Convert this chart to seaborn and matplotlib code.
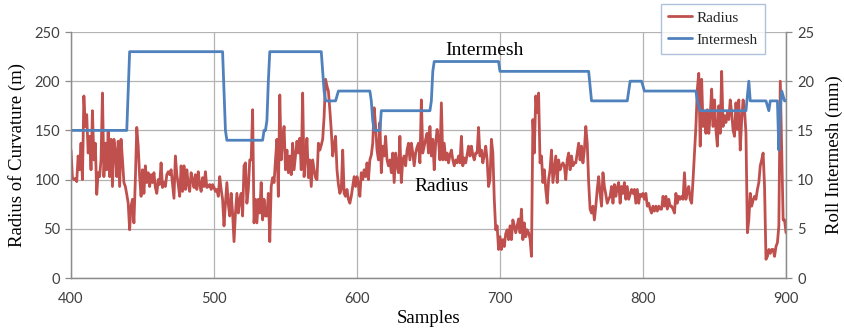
import numpy as np
import pandas as pd
import matplotlib
matplotlib.use("Agg")
import matplotlib.pyplot as plt
from matplotlib.lines import Line2D
import seaborn as sns

# Sample index along the run
samples = np.arange(400, 901)

# Radius of curvature (m), one value per sample
radius = [
    130, 102, 100, 101, 98, 124, 110, 137, 100, 185,
    154, 166, 127, 144, 110, 170, 120, 137, 85, 107,
    103, 120, 188, 103, 137, 110, 149, 103, 141, 93,
    141, 129, 103, 139, 93, 141, 120, 97, 93, 85,
    76, 49, 73, 80, 56, 100, 153, 134, 103, 83,
    110, 86, 114, 97, 107, 93, 105, 97, 107, 92,
    86, 100, 95,                                   # 400-462
    117, 92, 97, 93, 105, 108, 105, 110, 95, 81,
    124, 105, 95, 83, 114, 88, 114, 90, 110, 95,
    88, 107, 100, 92, 105, 90, 108, 95, 88, 102,
    93, 108, 92, 93, 95, 90, 95, 92, 88, 90,
    83, 103, 90, 80, 53, 76, 97, 75, 63, 86,
    66, 37, 66, 86, 66, 80, 86, 63, 114, 117,
    76, 90, 120,                                   # 463-525
    120, 171, 56, 80, 56, 80, 66, 97, 59, 80,
    63, 63, 86, 37, 93, 102, 97, 120, 141, 83, 186,
    120, 140, 154, 110, 130, 107, 124, 105, 137, 110,
    124, 139, 127, 142, 110, 188, 103, 124, 142, 102,
    120, 93, 120, 110, 102, 100, 137, 130, 135, 141,
    164, 202, 195, 190, 171, 150, 124, 135, 144, 110,
    95, 86, 90,                                    # 526-589
    130, 86, 83, 90, 80, 76, 83, 93, 103, 93,
    103, 95, 83, 107, 100, 110, 103, 117, 100, 120,
    125, 137, 173, 154, 130, 120, 158, 107, 134, 124,
    144, 120, 114, 120, 107, 127, 97, 127, 115, 107,
    144, 97, 120, 124, 114, 130, 137, 120, 137, 127,
    114, 127, 133, 137, 117, 181, 127, 134, 141, 147,
    127,                                           # 590-650
    154, 124, 141, 110, 137, 151, 140, 120, 178, 120,
    137, 120, 127, 117, 125, 130, 120, 114, 120, 117,
    124, 117, 144, 114, 122, 117, 125, 134, 124, 134,
    125, 120, 127, 127, 153, 124, 130, 117, 125, 134,
    120, 93, 100, 141, 127, 80, 49, 53, 29, 42,
    29, 39, 32, 45, 49, 39, 53, 39, 59, 53,
    46, 53, 60,                                    # 651-713
    46, 70, 39, 56, 42, 49, 46, 40, 22, 161,
    127, 185, 168, 188, 117, 124, 97, 110, 90, 76,
    100, 110, 130, 97, 110, 124, 97, 120, 110, 114,
    117, 114, 100, 120, 127, 110, 124, 114, 117, 117,
    127, 137, 120, 134, 117, 130, 154, 137, 97, 70,
    66, 73, 59, 73, 90, 103, 86, 73, 107, 93,
    85, 76, 80,                                    # 714-776
    83, 93, 76, 95, 83, 92, 97, 76, 93, 86,
    97, 80, 93, 80, 85, 90, 86, 90, 76, 90,
    76, 85, 83, 86, 80, 86, 73, 76, 70, 66,
    73, 68, 73, 68, 73, 70, 70, 83, 73, 83,
    70, 80, 73, 73, 70, 66, 86, 76, 83, 80,
    83, 80, 107, 80, 88, 93, 80, 76, 100, 127,
    154, 192,                                      # 777-838
    208, 134, 202, 154, 168, 147, 171, 147, 165, 192,
    154, 181, 151, 134, 175, 147, 210, 154, 165, 158,
    168, 161, 181, 168, 150, 144, 178, 151, 181, 130,
    160, 181, 171, 147, 46, 59, 86, 73, 79, 83,
    80, 90, 97, 114, 120, 127, 93, 19, 22, 29,
    25, 29, 29, 22, 32, 36, 53, 200, 127, 59,
    59, 46,                                        # 839-900
]

# Roll intermesh (mm) as (level, number of samples) runs
intermesh_runs = [
    (15, 40), (19, 1), (23, 66), (19, 1), (15, 1), (14, 26), (15, 2),
    (16, 1), (20, 1), (23, 37), (21, 1), (19, 1), (18, 8), (18.5, 1),
    (19, 23), (18, 1), (16, 1), (15, 5), (17, 35), (18, 1), (21, 1),
    (22, 46), (21, 63), (19.5, 1), (18, 26), (19, 1), (20, 9), (19.5, 1),
    (19, 37), (18, 1), (17.5, 1), (17, 33), (18.5, 1), (20, 1), (18, 12),
    (17.5, 1), (17, 1), (18, 6), (13, 1), (17, 1), (19, 1), (18.5, 1),
    (18, 2),
]
intermesh = np.repeat([v for v, _ in intermesh_runs], [n for _, n in intermesh_runs])

assert len(radius) == len(samples) == len(intermesh)

df = pd.DataFrame({"Samples": samples, "Radius": radius, "Intermesh": intermesh})

RED = "#C0504D"
BLUE = "#4F81BD"
GRID = "#B3B3B3"
AXIS = "#8C8C8C"
TICKTXT = "#404040"

sns.set_theme(style="white")
plt.rcParams["font.family"] = ["Liberation Serif", "DejaVu Serif"]

fig = plt.figure(figsize=(8.44, 3.31), dpi=100)
ax = fig.add_axes([71 / 844, 1 - 278 / 331, (786 - 71) / 844, (278 - 32) / 331])
ax2 = ax.twinx()

sns.lineplot(data=df, x="Samples", y="Radius", ax=ax, color=RED, linewidth=2.0)
sns.lineplot(data=df, x="Samples", y="Intermesh", ax=ax2, color=BLUE, linewidth=2.0)

ax.set_xlim(400, 900)
ax.set_ylim(0, 250)
ax2.set_ylim(0, 25)
ax.set_xticks(np.arange(400, 901, 100))
ax.set_yticks(np.arange(0, 251, 50))
ax2.set_yticks(np.arange(0, 26, 5))

ax.grid(True, color=GRID, linewidth=0.9)
ax2.grid(False)
ax.set_axisbelow(True)

for a in (ax, ax2):
    a.spines["top"].set_visible(False)
    for side in ("left", "right", "bottom"):
        a.spines[side].set_color(AXIS)
        a.spines[side].set_linewidth(0.9)
    a.tick_params(axis="both", direction="out", length=4, width=0.9,
                  color=AXIS, labelcolor=TICKTXT, labelsize=10.5, pad=4)
    for lbl in a.get_xticklabels() + a.get_yticklabels():
        lbl.set_fontfamily("Lato")
ax.tick_params(axis="x", pad=6)

ax.set_xlabel("Samples", fontsize=13.5, color="black", labelpad=3)
ax.set_ylabel("Radius of Curvature (m)", fontsize=13.5, color="black", labelpad=6)
ax2.set_ylabel("Roll Intermesh (mm)", fontsize=13.5, color="black", labelpad=8)

ax.text(689, 231, "Intermesh", fontsize=14, ha="center", va="center", color="black")
ax.text(659, 93, "Radius", fontsize=14, ha="center", va="center", color="black")

handles = [Line2D([], [], color=RED, linewidth=2.0),
           Line2D([], [], color=BLUE, linewidth=2.0)]
leg = fig.legend(handles, ["Radius", "Intermesh"],
                 loc="upper left", bbox_to_anchor=(661 / 844, 1 - 4 / 331),
                 fontsize=11, frameon=True, fancybox=False,
                 handlelength=1.6, handletextpad=0.3, borderpad=0.45,
                 labelspacing=0.55, borderaxespad=0)
leg.get_frame().set_edgecolor("#9DB3D3")
leg.get_frame().set_linewidth(1.0)

fig.savefig("out.png", dpi=100)
